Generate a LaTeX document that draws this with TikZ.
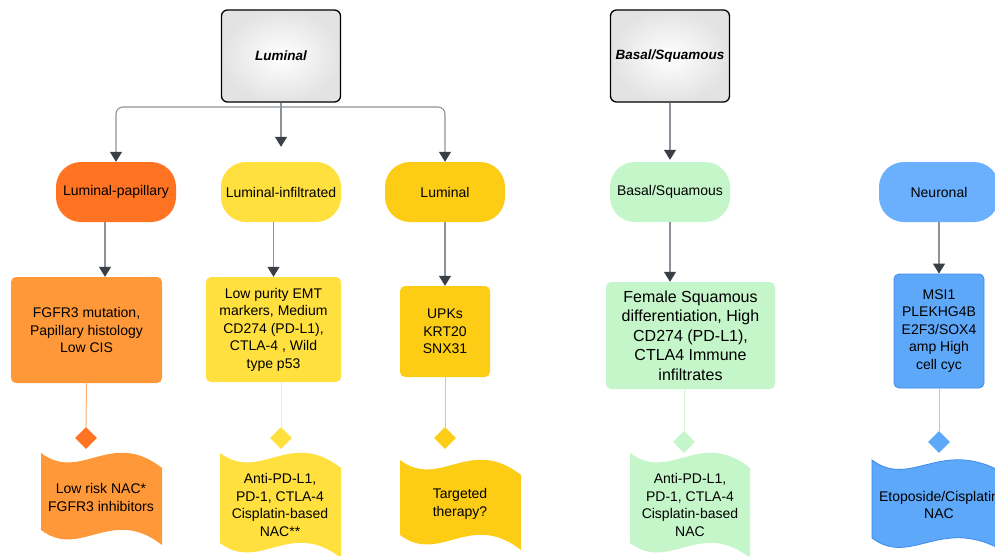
\documentclass[tikz,border=0pt]{standalone}
\usepackage{fontspec}
\setmainfont{Liberation Sans}
\usetikzlibrary{arrows.meta,shapes.geometric,calc}
\definecolor{cLP}{HTML}{FF7322}
\definecolor{cLPd}{HTML}{FF9838}
\definecolor{cLI}{HTML}{FFE03F}
\definecolor{cLU}{HTML}{FDCD15}
\definecolor{cBS}{HTML}{C5F6CA}
\definecolor{cNP}{HTML}{6BB0FF}
\definecolor{cNd}{HTML}{5EA8FA}
\definecolor{cNb}{HTML}{3C8CEB}
\definecolor{sLP}{HTML}{FFAE70}
\definecolor{sLI}{HTML}{FFEE95}
\definecolor{sLU}{HTML}{F2CC4A}
\definecolor{sBS}{HTML}{D3F5D6}
\definecolor{sNE}{HTML}{A6CBF5}
\definecolor{connc}{HTML}{8C929A}
\definecolor{tipc}{HTML}{3A3F47}
\newcommand\tapeshape[6]{%
  \begin{scope}[shift={(#3,#4)}]
    \path[fill=#1,#2] (0,0) .. controls (40,30) and (70,-25) .. (#6,15)
      -- (#6,15+#5) .. controls (70,#5-25) and (40,#5+30) .. (0,#5) -- cycle;
  \end{scope}}
\begin{document}
\begin{tikzpicture}[x=1pt,y=-1pt,
  topbox/.style={draw=black, line width=1.3pt, rounded corners=6pt,
    minimum width=119pt, minimum height=92pt, inner color=white, outer color=black!11,
    font=\fontsize{13.5}{16}\selectfont\bfseries\itshape},
  pill/.style={rounded corners=25pt, minimum width=120pt, minimum height=60pt,
    inner sep=0pt, font=\fontsize{14}{17}\selectfont},
  card/.style={rounded corners=5pt, align=center, inner sep=2pt,
    font=\fontsize{14}{17.5}\selectfont},
  bigcard/.style={card, font=\fontsize{16}{19.5}\selectfont},
  dia/.style={diamond, minimum width=22pt, minimum height=22pt, inner sep=0pt},
  tapetext/.style={align=center, inner sep=0pt, font=\fontsize{14}{17.5}\selectfont},
  arr/.style={draw=connc, line width=1.1pt, -{Triangle[width=12pt,length=10pt,color=tipc]}},
  stem/.style={line width=1pt}]
\useasboundingbox (0,0) rectangle (995,555);
\fill[white] (0,0) rectangle (995,555);
\clip (0,0) rectangle (995,555);

% top category boxes
\node[topbox] (lum) at (281,56) {Luminal};
\node[topbox] (bas) at (670,56) {Basal/Squamous};

% subtype pills
\node[pill, fill=cLP] (lp) at (116,192) {Luminal-papillary};
\node[pill, fill=cLI] (li) at (281,192) {Luminal-infiltrated};
\node[pill, fill=cLU] (lu) at (445,192) {Luminal};
\node[pill, fill=cBS] (bs) at (670,192) {Basal/Squamous};
\node[pill, fill=cNP] (ne) at (939,192) {Neuronal};

% description cards
\node[card, fill=cLPd, minimum width=151pt, minimum height=106pt] (lpd) at (86.5,330)
  {FGFR3 mutation,\\Papillary histology\\Low CIS};
\node[card, fill=cLI, minimum width=135pt, minimum height=105pt] (lid) at (273.5,329.5)
  {Low purity EMT\\markers, Medium\\CD274 (PD-L1),\\CTLA-4 , Wild\\type p53};
\node[card, fill=cLU, minimum width=90pt, minimum height=91pt] (lud) at (445,331.5)
  {UPKs\\KRT20\\SNX31};
\node[bigcard, fill=cBS, minimum width=169pt, minimum height=107pt] (bsd) at (690.5,335.5)
  {Female Squamous\\differentiation, High\\CD274 (PD-L1),\\CTLA4 Immune\\infiltrates};
\node[card, fill=cNd, draw=cNb, line width=0.8pt, minimum width=90pt, minimum height=114pt] (nd) at (939,331)
  {MSI1\\PLEKHG4B\\E2F3/SOX4\\amp High\\cell cyc};

% diamonds
\node[dia, fill=cLP] (dlp) at (86,438) {};
\node[dia, fill=cLI] (dli) at (281,438) {};
\node[dia, fill=cLU] (dlu) at (445,438) {};
\node[dia, fill=cBS] (dbs) at (684,442) {};
\node[dia, fill=cNd] (dne) at (939,442) {};

% tape shapes
\tapeshape{cLPd}{}{41}{453}{77}{121}
\tapeshape{cLI}{}{220}{453}{90}{121}
\tapeshape{cLU}{}{400}{460}{75}{121}
\tapeshape{cBS}{}{630}{453}{90}{120}
\tapeshape{cNd}{draw=cNb, line width=0.8pt}{872}{460}{78}{135}

\node[tapetext] (tlp) at (101,497.5) {Low risk NAC*\\FGFR3 inhibitors};
\node[tapetext] (tli) at (280,505) {Anti-PD-L1,\\PD-1, CTLA-4\\Cisplatin-based\\NAC**};
\node[tapetext] (tlu) at (460,504) {Targeted\\therapy?};
\node[tapetext] (tbs) at (690,505) {Anti-PD-L1,\\PD-1, CTLA-4\\Cisplatin-based\\NAC};
\node[tapetext] (tne) at (939,505) {Etoposide/Cisplatin\\NAC};

% connectors from top boxes
\coordinate (hb) at (281,107);
\draw[arr] (lum.south) -- ([yshift=15pt]li.north);
\draw[arr, rounded corners=7pt] (lum.south |- hb) -| (lp.north);
\draw[arr, rounded corners=7pt] (lum.south |- hb) -| (lu.north);
\draw[arr] (bas.south) -- ([yshift=2pt]bs.north);

% pills to cards
\draw[arr] ([xshift=-11pt]lp.south) -- ([xshift=-11pt]lp.south |- lpd.north);
\draw[arr] (li.south -| lid.north) -- (lid.north);
\draw[arr] (lu.south) -- (lud.north);
\draw[arr] (bs.south) -- (bs.south |- bsd.north);
\draw[arr] (ne.south) -- (ne.south |- nd.north);

% cards to diamonds
\draw[stem, draw=sLP] (lpd.south) -- (dlp.north);
\draw[stem, draw=sLI] (dli.north |- lid.south) -- (dli.north);
\draw[stem, draw=sLU] (lud.south) -- (dlu.north);
\draw[stem, draw=sBS] (dbs.north |- bsd.south) -- (dbs.north);
\draw[stem, draw=sNE] (nd.south) -- (dne.north);
\end{tikzpicture}
\end{document}
